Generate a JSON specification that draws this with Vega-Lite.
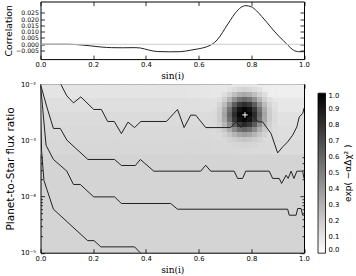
{
"$schema": "https://vega.github.io/schema/vega-lite/v6.json",
"padding": {"left": 3.5, "top": 0.5, "right": 0, "bottom": 0},
"config": {
  "font": "DejaVu Sans",
  "axis": {"domain": false, "grid": false, "tickColor": "black", "labelColor": "black", "labelFont": "DejaVu Sans", "labelFontSize": 6.8, "titleColor": "black", "titleFontWeight": "normal", "tickSize": -4, "tickWidth": 0.8, "labelPadding": 6.5, "labelOverlap": false, "labelFlush": false},
  "view": {"stroke": "black", "strokeWidth": 1}
},
"datasets": {
  "corr": [
    {"s":0.00,"c":0.0},{"s":0.10,"c":0.0},{"s":0.14,"c":-0.0003},{"s":0.19,"c":-0.0013},{"s":0.23,"c":-0.0022},{"s":0.27,"c":-0.0027},{"s":0.31,"c":-0.0028},{"s":0.355,"c":-0.0027},{"s":0.38,"c":-0.0030},{"s":0.41,"c":-0.0046},{"s":0.445,"c":-0.0058},{"s":0.49,"c":-0.0060},{"s":0.53,"c":-0.0059},{"s":0.57,"c":-0.0047},{"s":0.60,"c":-0.0036},{"s":0.62,"c":-0.0027},{"s":0.64,"c":-0.0012},{"s":0.66,"c":0.0013},{"s":0.68,"c":0.0060},{"s":0.70,"c":0.0125},{"s":0.72,"c":0.0190},{"s":0.74,"c":0.0250},{"s":0.76,"c":0.0292},{"s":0.78,"c":0.0307},{"s":0.80,"c":0.0298},{"s":0.82,"c":0.0266},{"s":0.84,"c":0.0220},{"s":0.86,"c":0.0172},{"s":0.88,"c":0.0121},{"s":0.90,"c":0.0074},{"s":0.92,"c":0.0032},{"s":0.94,"c":-0.0010},{"s":0.96,"c":-0.0047},{"s":0.98,"c":-0.0059},{"s":1.00,"c":-0.0059}
  ],
  "coarse": [
    {"x":0.025,"y":0.0075,"v":0.104},{"x":0.075,"y":0.0075,"v":0.104},{"x":0.125,"y":0.0075,"v":0.104},{"x":0.175,"y":0.0075,"v":0.104},{"x":0.225,"y":0.0075,"v":0.104},{"x":0.275,"y":0.0075,"v":0.104},{"x":0.325,"y":0.0075,"v":0.104},{"x":0.375,"y":0.0075,"v":0.104},{"x":0.425,"y":0.0075,"v":0.104},{"x":0.475,"y":0.0075,"v":0.104},{"x":0.525,"y":0.0075,"v":0.104},{"x":0.575,"y":0.0075,"v":0.102},{"x":0.625,"y":0.0075,"v":0.100},{"x":0.675,"y":0.0075,"v":0.096},{"x":0.725,"y":0.0075,"v":0.090},{"x":0.775,"y":0.0075,"v":0.082},{"x":0.825,"y":0.0075,"v":0.073},{"x":0.875,"y":0.0075,"v":0.066},{"x":0.925,"y":0.0075,"v":0.061},{"x":0.975,"y":0.0075,"v":0.061},
    {"x":0.025,"y":0.00423,"v":0.126},{"x":0.075,"y":0.00423,"v":0.126},{"x":0.125,"y":0.00423,"v":0.126},{"x":0.175,"y":0.00423,"v":0.126},{"x":0.225,"y":0.00423,"v":0.126},{"x":0.275,"y":0.00423,"v":0.126},{"x":0.325,"y":0.00423,"v":0.126},{"x":0.375,"y":0.00423,"v":0.126},{"x":0.425,"y":0.00423,"v":0.126},{"x":0.475,"y":0.00423,"v":0.126},{"x":0.525,"y":0.00423,"v":0.126},{"x":0.575,"y":0.00423,"v":0.124},{"x":0.625,"y":0.00423,"v":0.123},{"x":0.675,"y":0.00423,"v":0.120},{"x":0.725,"y":0.00423,"v":0.115},{"x":0.775,"y":0.00423,"v":0.109},{"x":0.825,"y":0.00423,"v":0.103},{"x":0.875,"y":0.00423,"v":0.097},{"x":0.925,"y":0.00423,"v":0.093},{"x":0.975,"y":0.00423,"v":0.093},
    {"x":0.025,"y":0.00238,"v":0.141},{"x":0.075,"y":0.00238,"v":0.141},{"x":0.125,"y":0.00238,"v":0.141},{"x":0.175,"y":0.00238,"v":0.141},{"x":0.225,"y":0.00238,"v":0.141},{"x":0.275,"y":0.00238,"v":0.141},{"x":0.325,"y":0.00238,"v":0.141},{"x":0.375,"y":0.00238,"v":0.141},{"x":0.425,"y":0.00238,"v":0.141},{"x":0.475,"y":0.00238,"v":0.141},{"x":0.525,"y":0.00238,"v":0.141},{"x":0.575,"y":0.00238,"v":0.140},{"x":0.625,"y":0.00238,"v":0.138},{"x":0.675,"y":0.00238,"v":0.136},{"x":0.725,"y":0.00238,"v":0.133},{"x":0.775,"y":0.00238,"v":0.128},{"x":0.825,"y":0.00238,"v":0.123},{"x":0.875,"y":0.00238,"v":0.119},{"x":0.925,"y":0.00238,"v":0.116},{"x":0.975,"y":0.00238,"v":0.116},
    {"x":0.025,"y":0.00134,"v":0.150},{"x":0.075,"y":0.00134,"v":0.150},{"x":0.125,"y":0.00134,"v":0.150},{"x":0.175,"y":0.00134,"v":0.150},{"x":0.225,"y":0.00134,"v":0.150},{"x":0.275,"y":0.00134,"v":0.150},{"x":0.325,"y":0.00134,"v":0.150},{"x":0.375,"y":0.00134,"v":0.150},{"x":0.425,"y":0.00134,"v":0.150},{"x":0.475,"y":0.00134,"v":0.150},{"x":0.525,"y":0.00134,"v":0.150},{"x":0.575,"y":0.00134,"v":0.150},{"x":0.625,"y":0.00134,"v":0.148},{"x":0.675,"y":0.00134,"v":0.146},{"x":0.725,"y":0.00134,"v":0.144},{"x":0.775,"y":0.00134,"v":0.140},{"x":0.825,"y":0.00134,"v":0.137},{"x":0.875,"y":0.00134,"v":0.133},{"x":0.925,"y":0.00134,"v":0.131},{"x":0.975,"y":0.00134,"v":0.131},
    {"x":0.025,"y":0.000755,"v":0.157},{"x":0.075,"y":0.000755,"v":0.157},{"x":0.125,"y":0.000755,"v":0.157},{"x":0.175,"y":0.000755,"v":0.157},{"x":0.225,"y":0.000755,"v":0.157},{"x":0.275,"y":0.000755,"v":0.157},{"x":0.325,"y":0.000755,"v":0.157},{"x":0.375,"y":0.000755,"v":0.157},{"x":0.425,"y":0.000755,"v":0.157},{"x":0.475,"y":0.000755,"v":0.157},{"x":0.525,"y":0.000755,"v":0.157},{"x":0.575,"y":0.000755,"v":0.157},{"x":0.625,"y":0.000755,"v":0.157},{"x":0.675,"y":0.000755,"v":0.154},{"x":0.725,"y":0.000755,"v":0.152},{"x":0.775,"y":0.000755,"v":0.150},{"x":0.825,"y":0.000755,"v":0.147},{"x":0.875,"y":0.000755,"v":0.144},{"x":0.925,"y":0.000755,"v":0.143},{"x":0.975,"y":0.000755,"v":0.143}
  ],
  "blob": [
    {"x":0.737,"y":0.0098,"v":0.092},{"x":0.756,"y":0.0098,"v":0.098},{"x":0.775,"y":0.0098,"v":0.101},{"x":0.794,"y":0.0098,"v":0.098},{"x":0.813,"y":0.0098,"v":0.092},
    {"x":0.718,"y":0.00798,"v":0.112},{"x":0.737,"y":0.00798,"v":0.138},{"x":0.756,"y":0.00798,"v":0.162},{"x":0.775,"y":0.00798,"v":0.172},{"x":0.794,"y":0.00798,"v":0.162},{"x":0.813,"y":0.00798,"v":0.138},{"x":0.832,"y":0.00798,"v":0.112},
    {"x":0.699,"y":0.0065,"v":0.130},{"x":0.718,"y":0.0065,"v":0.181},{"x":0.737,"y":0.0065,"v":0.251},{"x":0.756,"y":0.0065,"v":0.313},{"x":0.775,"y":0.0065,"v":0.338},{"x":0.794,"y":0.0065,"v":0.313},{"x":0.813,"y":0.0065,"v":0.251},{"x":0.832,"y":0.0065,"v":0.181},{"x":0.851,"y":0.0065,"v":0.130},
    {"x":0.680,"y":0.0053,"v":0.129},{"x":0.699,"y":0.0053,"v":0.187},{"x":0.718,"y":0.0053,"v":0.296},{"x":0.737,"y":0.0053,"v":0.431},{"x":0.756,"y":0.0053,"v":0.542},{"x":0.775,"y":0.0053,"v":0.584},{"x":0.794,"y":0.0053,"v":0.542},{"x":0.813,"y":0.0053,"v":0.431},{"x":0.832,"y":0.0053,"v":0.296},{"x":0.851,"y":0.0053,"v":0.187},{"x":0.870,"y":0.0053,"v":0.129},
    {"x":0.661,"y":0.00432,"v":0.121},{"x":0.680,"y":0.00432,"v":0.161},{"x":0.699,"y":0.00432,"v":0.262},{"x":0.718,"y":0.00432,"v":0.435},{"x":0.737,"y":0.00432,"v":0.631},{"x":0.756,"y":0.00432,"v":0.775},{"x":0.775,"y":0.00432,"v":0.826},{"x":0.794,"y":0.00432,"v":0.775},{"x":0.813,"y":0.00432,"v":0.631},{"x":0.832,"y":0.00432,"v":0.435},{"x":0.851,"y":0.00432,"v":0.262},{"x":0.870,"y":0.00432,"v":0.161},{"x":0.889,"y":0.00432,"v":0.121},
    {"x":0.661,"y":0.00352,"v":0.134},{"x":0.680,"y":0.00352,"v":0.191},{"x":0.699,"y":0.00352,"v":0.329},{"x":0.718,"y":0.00352,"v":0.549},{"x":0.737,"y":0.00352,"v":0.777},{"x":0.756,"y":0.00352,"v":0.926},{"x":0.775,"y":0.00352,"v":0.969},{"x":0.794,"y":0.00352,"v":0.926},{"x":0.813,"y":0.00352,"v":0.777},{"x":0.832,"y":0.00352,"v":0.549},{"x":0.851,"y":0.00352,"v":0.329},{"x":0.870,"y":0.00352,"v":0.191},{"x":0.889,"y":0.00352,"v":0.134},
    {"x":0.661,"y":0.00286,"v":0.142},{"x":0.680,"y":0.00286,"v":0.205},{"x":0.699,"y":0.00286,"v":0.357},{"x":0.718,"y":0.00286,"v":0.593},{"x":0.737,"y":0.00286,"v":0.829},{"x":0.756,"y":0.00286,"v":0.969},{"x":0.775,"y":0.00286,"v":1.0},{"x":0.794,"y":0.00286,"v":0.969},{"x":0.813,"y":0.00286,"v":0.829},{"x":0.832,"y":0.00286,"v":0.593},{"x":0.851,"y":0.00286,"v":0.357},{"x":0.870,"y":0.00286,"v":0.205},{"x":0.889,"y":0.00286,"v":0.142},
    {"x":0.661,"y":0.00233,"v":0.145},{"x":0.680,"y":0.00233,"v":0.202},{"x":0.699,"y":0.00233,"v":0.338},{"x":0.718,"y":0.00233,"v":0.555},{"x":0.737,"y":0.00233,"v":0.780},{"x":0.756,"y":0.00233,"v":0.927},{"x":0.775,"y":0.00233,"v":0.969},{"x":0.794,"y":0.00233,"v":0.927},{"x":0.813,"y":0.00233,"v":0.780},{"x":0.832,"y":0.00233,"v":0.555},{"x":0.851,"y":0.00233,"v":0.338},{"x":0.870,"y":0.00233,"v":0.202},{"x":0.889,"y":0.00233,"v":0.145},
    {"x":0.661,"y":0.0019,"v":0.143},{"x":0.680,"y":0.0019,"v":0.182},{"x":0.699,"y":0.0019,"v":0.281},{"x":0.718,"y":0.0019,"v":0.450},{"x":0.737,"y":0.0019,"v":0.641},{"x":0.756,"y":0.0019,"v":0.781},{"x":0.775,"y":0.0019,"v":0.831},{"x":0.794,"y":0.0019,"v":0.781},{"x":0.813,"y":0.0019,"v":0.641},{"x":0.832,"y":0.0019,"v":0.450},{"x":0.851,"y":0.0019,"v":0.281},{"x":0.870,"y":0.0019,"v":0.182},{"x":0.889,"y":0.0019,"v":0.143},
    {"x":0.680,"y":0.00155,"v":0.163},{"x":0.699,"y":0.00155,"v":0.219},{"x":0.718,"y":0.00155,"v":0.323},{"x":0.737,"y":0.00155,"v":0.453},{"x":0.756,"y":0.00155,"v":0.560},{"x":0.775,"y":0.00155,"v":0.600},{"x":0.794,"y":0.00155,"v":0.560},{"x":0.813,"y":0.00155,"v":0.453},{"x":0.832,"y":0.00155,"v":0.323},{"x":0.851,"y":0.00155,"v":0.219},{"x":0.870,"y":0.00155,"v":0.163},
    {"x":0.699,"y":0.00126,"v":0.175},{"x":0.718,"y":0.00126,"v":0.223},{"x":0.737,"y":0.00126,"v":0.289},{"x":0.756,"y":0.00126,"v":0.348},{"x":0.775,"y":0.00126,"v":0.371},{"x":0.794,"y":0.00126,"v":0.348},{"x":0.813,"y":0.00126,"v":0.289},{"x":0.832,"y":0.00126,"v":0.223},{"x":0.851,"y":0.00126,"v":0.175},
    {"x":0.718,"y":0.00103,"v":0.171},{"x":0.737,"y":0.00103,"v":0.195},{"x":0.756,"y":0.00103,"v":0.217},{"x":0.775,"y":0.00103,"v":0.226},{"x":0.794,"y":0.00103,"v":0.217},{"x":0.813,"y":0.00103,"v":0.195},{"x":0.832,"y":0.00103,"v":0.171},
    {"x":0.737,"y":0.000838,"v":0.159},{"x":0.756,"y":0.000838,"v":0.165},{"x":0.775,"y":0.000838,"v":0.168},{"x":0.794,"y":0.000838,"v":0.165},{"x":0.813,"y":0.000838,"v":0.159}
  ],
  "lines": [
    {"c":"A","s":0.077,"f":0.0100},{"c":"A","s":0.100,"f":0.00619},{"c":"A","s":0.125,"f":0.00465},{"c":"A","s":0.153,"f":0.00594},{"c":"A","s":0.202,"f":0.00355},{"c":"A","s":0.231,"f":0.00355},{"c":"A","s":0.255,"f":0.00217},{"c":"A","s":0.280,"f":0.00217},{"c":"A","s":0.307,"f":0.00132},{"c":"A","s":0.332,"f":0.00211},{"c":"A","s":0.357,"f":0.00169},{"c":"A","s":0.381,"f":0.00217},{"c":"A","s":0.478,"f":0.00217},{"c":"A","s":0.506,"f":0.00301},{"c":"A","s":0.520,"f":0.00355},{"c":"A","s":0.545,"f":0.00169},{"c":"A","s":0.570,"f":0.00281},{"c":"A","s":0.589,"f":0.00281},{"c":"A","s":0.627,"f":0.00169},{"c":"A","s":0.722,"f":0.00169},{"c":"A","s":0.741,"f":0.00213},{"c":"A","s":0.760,"f":0.00169},{"c":"A","s":0.779,"f":0.00213},{"c":"A","s":0.805,"f":0.00281},{"c":"A","s":0.826,"f":0.00213},{"c":"A","s":0.843,"f":0.00213},{"c":"A","s":0.875,"f":0.00132},{"c":"A","s":0.900,"f":0.000598},{"c":"A","s":0.919,"f":0.000765},{"c":"A","s":0.938,"f":0.00094},{"c":"A","s":0.957,"f":0.00124},{"c":"A","s":0.973,"f":0.00174},{"c":"A","s":0.982,"f":0.00262},{"c":"A","s":0.995,"f":0.00301},{"c":"A","s":1.0,"f":0.00374},
    {"c":"B","s":0.0,"f":0.0100},{"c":"B","s":0.024,"f":0.00394},{"c":"B","s":0.049,"f":0.00163},{"c":"B","s":0.075,"f":0.00163},{"c":"B","s":0.100,"f":0.00101},{"c":"B","s":0.180,"f":0.000457},{"c":"B","s":0.281,"f":0.000457},{"c":"B","s":0.307,"f":0.000357},{"c":"B","s":0.360,"f":0.000357},{"c":"B","s":0.379,"f":0.000457},{"c":"B","s":0.430,"f":0.000283},{"c":"B","s":0.608,"f":0.000283},{"c":"B","s":0.627,"f":0.000361},{"c":"B","s":0.646,"f":0.000283},{"c":"B","s":0.735,"f":0.000283},{"c":"B","s":0.748,"f":0.00021},{"c":"B","s":0.767,"f":0.00021},{"c":"B","s":0.779,"f":0.000283},{"c":"B","s":0.868,"f":0.000283},{"c":"B","s":0.881,"f":0.00021},{"c":"B","s":0.906,"f":0.00021},{"c":"B","s":0.915,"f":0.000171},{"c":"B","s":0.932,"f":0.00024},{"c":"B","s":0.940,"f":0.00021},{"c":"B","s":0.951,"f":0.000283},{"c":"B","s":0.962,"f":0.00021},{"c":"B","s":0.973,"f":0.000283},{"c":"B","s":0.995,"f":0.000283},{"c":"B","s":1.0,"f":0.00021},
    {"c":"C","s":0.0,"f":0.0100},{"c":"C","s":0.021,"f":0.00082},{"c":"C","s":0.049,"f":0.000457},{"c":"C","s":0.100,"f":0.000283},{"c":"C","s":0.125,"f":0.000164},{"c":"C","s":0.151,"f":0.000164},{"c":"C","s":0.202,"f":0.0000986},{"c":"C","s":0.281,"f":0.0000986},{"c":"C","s":0.307,"f":0.0000752},{"c":"C","s":0.494,"f":0.0000752},{"c":"C","s":0.520,"f":0.0000595},{"c":"C","s":0.938,"f":0.0000595},{"c":"C","s":0.944,"f":0.0000465},{"c":"C","s":0.970,"f":0.0000465},{"c":"C","s":0.976,"f":0.0000612},{"c":"C","s":0.989,"f":0.0000612},{"c":"C","s":0.995,"f":0.0000465},{"c":"C","s":1.0,"f":0.0000465},
    {"c":"D","s":0.0,"f":0.0100},{"c":"D","s":0.004,"f":0.000668},{"c":"D","s":0.013,"f":0.000195},{"c":"D","s":0.024,"f":0.000135},{"c":"D","s":0.049,"f":0.0000595},{"c":"D","s":0.179,"f":0.0000164},{"c":"D","s":0.203,"f":0.0000164},{"c":"D","s":0.229,"f":0.0000127},{"c":"D","s":0.357,"f":0.0000127},{"c":"D","s":0.380,"f":0.0000098}
  ],
  "best": [{"s":0.776,"f":0.00284}]
},
"vconcat": [
  {
    "width": 263.5, "height": 57.6,
    "layer": [
      {"data": {"name": "corr"},
       "mark": {"type": "line", "color": "#222222", "strokeWidth": 1, "interpolate": "monotone", "clip": true},
       "encoding": {
         "x": {"field": "s", "type": "quantitative", "scale": {"domain": [0, 1], "nice": false},
               "axis": {"orient": "bottom", "values": [0, 0.2, 0.4, 0.6, 0.8, 1], "format": ".1f", "title": "sin(i)", "titleFont": "DejaVu Serif", "titleFontSize": 9, "titlePadding": 3}},
         "y": {"field": "c", "type": "quantitative", "scale": {"domain": [-0.0118, 0.034], "nice": false, "zero": false},
               "axis": {"orient": "left", "values": [-0.005, 0, 0.005, 0.01, 0.015, 0.02, 0.025], "format": ".3f", "labelPadding": 6, "labelFontSize": 6.2, "title": "Correlation", "titleFontSize": 9.3, "titlePadding": 2}}
       }},
      {"data": {"values": [{}]},
       "mark": {"type": "rule", "color": "#cccccc", "strokeWidth": 1},
       "encoding": {
         "x": {"datum": 0, "type": "quantitative", "axis": {"orient": "top", "values": [0, 0.2, 0.4, 0.6, 0.8, 1], "labels": false, "title": null}},
         "x2": {"datum": 1},
         "y": {"datum": 0, "type": "quantitative", "axis": {"orient": "right", "values": [-0.005, 0, 0.005, 0.01, 0.015, 0.02, 0.025], "labels": false, "title": null}}
       }}
    ],
    "resolve": {"axis": {"x": "independent", "y": "independent"}}
  },
  {
    "width": 263.5, "height": 168.5,
    "view": {"fill": "#d4d4d4", "stroke": "black", "strokeWidth": 1},
    "layer": [
      {"data": {"name": "coarse"},
       "mark": {"type": "rect", "width": 13.6, "height": 14.5, "clip": true},
       "encoding": {
         "x": {"field": "x", "type": "quantitative", "scale": {"domain": [0, 1], "nice": false},
               "axis": {"orient": "bottom", "values": [0, 0.2, 0.4, 0.6, 0.8, 1], "format": ".1f", "title": "sin(i)", "titleFont": "DejaVu Serif", "titleFontSize": 9, "titlePadding": 3}},
         "y": {"field": "y", "type": "quantitative", "scale": {"type": "log", "domain": [0.00001, 0.01], "nice": false},
               "axis": {"orient": "left", "values": [0.00001, 0.0001, 0.001, 0.01], "labelExpr": "datum.value > 0.005 ? '10⁻²' : datum.value > 0.0005 ? '10⁻³' : datum.value > 0.00005 ? '10⁻⁴' : '10⁻⁵'", "title": "Planet-to-Star flux ratio", "titleFontSize": 10.5, "titlePadding": 5, "labelPadding": 9}},
         "color": {"field": "v", "type": "quantitative",
                   "scale": {"domain": [0, 1], "range": ["#ffffff", "#000000"], "interpolate": "rgb"},
                   "legend": {"orient": "none", "legendX": 277.5, "legendY": 9, "direction": "vertical", "gradientLength": 160, "gradientThickness": 7.5, "gradientStrokeColor": "black", "gradientStrokeWidth": 0.8, "values": [0, 0.1, 0.2, 0.3, 0.4, 0.5, 0.6, 0.7, 0.8, 0.9, 1], "format": ".1f", "labelFontSize": 6.8, "labelColor": "black", "labelOffset": 3, "labelOverlap": false, "title": "exp( −αΔχ² )", "titleOrient": "right", "titleFontSize": 9, "titleFontWeight": "normal", "titleColor": "black", "titleAnchor": "middle", "titlePadding": 5,
                              "encode": {"title": {"update": {"angle": {"value": 270}, "baseline": {"value": "top"}}}}}}
       }},
      {"data": {"name": "blob"},
       "mark": {"type": "rect", "width": 5.5, "height": 5.5, "clip": true},
       "encoding": {
         "x": {"field": "x", "type": "quantitative", "axis": {"orient": "top", "values": [0, 0.2, 0.4, 0.6, 0.8, 1], "labels": false, "title": null}},
         "y": {"field": "y", "type": "quantitative", "axis": {"orient": "right", "values": [0.00001, 0.0001, 0.001, 0.01], "labels": false, "title": null}},
         "color": {"field": "v", "type": "quantitative", "legend": null}
       }},
      {"data": {"name": "lines"},
       "mark": {"type": "line", "color": "#222222", "strokeWidth": 1, "clip": true},
       "encoding": {
         "x": {"field": "s", "type": "quantitative", "axis": null},
         "y": {"field": "f", "type": "quantitative", "axis": {"orient": "left", "values": [0.00002,0.00003,0.00004,0.00005,0.00006,0.00007,0.00008,0.00009,0.0002,0.0003,0.0004,0.0005,0.0006,0.0007,0.0008,0.0009,0.002,0.003,0.004,0.005,0.006,0.007,0.008,0.009], "labels": false, "title": null, "tickSize": -2}},
         "detail": {"field": "c"}
       }},
      {"data": {"name": "best"},
       "mark": {"type": "point", "shape": "M-1,0L1,0M0,-1L0,1", "size": 30, "stroke": "white", "strokeWidth": 1, "filled": false, "opacity": 1},
       "encoding": {
         "x": {"field": "s", "type": "quantitative", "axis": null},
         "y": {"field": "f", "type": "quantitative", "axis": {"orient": "right", "values": [0.00002,0.00003,0.00004,0.00005,0.00006,0.00007,0.00008,0.00009,0.0002,0.0003,0.0004,0.0005,0.0006,0.0007,0.0008,0.0009,0.002,0.003,0.004,0.005,0.006,0.007,0.008,0.009], "labels": false, "title": null, "tickSize": -2}}
       }}
    ],
    "resolve": {"axis": {"x": "independent", "y": "independent"}}
  }
],
"spacing": 24.7,
"bounds": "flush",
"resolve": {"scale": {"color": "independent"}, "legend": {"color": "independent"}}
}
